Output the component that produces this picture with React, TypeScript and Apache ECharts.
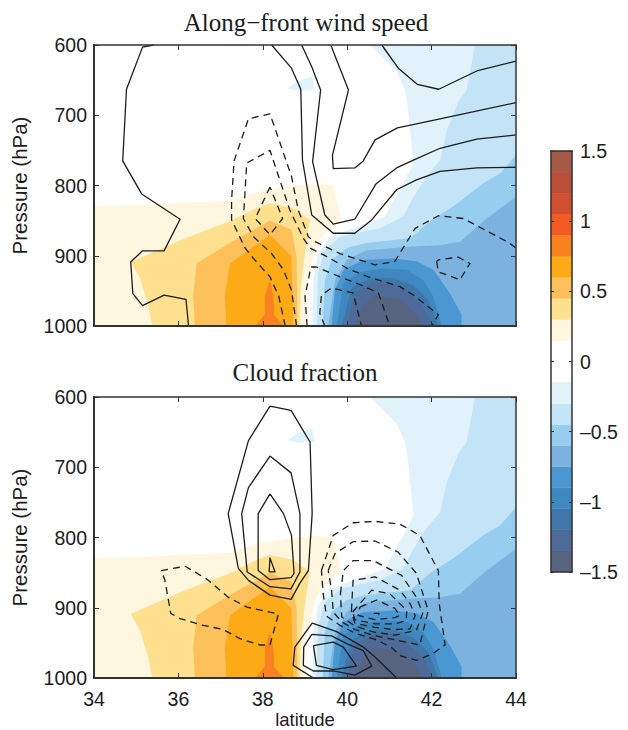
import React, { useEffect, useRef } from "react";
import * as echarts from "echarts";

type Pt = number[];

const latTicks = { min: 34, max: 44, interval: 2 };
const pressureTicks = { min: 600, max: 1000, interval: 100 };
const titles = ["Along\u2212front wind speed", "Cloud fraction"];

const warm1: Pt[] = [[34,1000],[34,829],[34.93,828],[36.04,825],[37.22,822],[37.85,809],[38.33,804],[39.12,798],[39.67,799],[39.85,847],[39.47,868],[39.24,887],[39.12,920],[39,963],[39.04,1000]];
const warm2: Pt[] = [[35.38,1000],[35.29,972],[35.09,932],[34.87,909],[36.04,878],[37.22,851],[37.85,832],[38.17,825],[38.72,832],[39.12,849],[39.04,878],[38.96,915],[38.9,949],[38.88,1000]];
const warm3: Pt[] = [[36.39,1000],[36.35,958],[36.43,911],[37.22,882],[38.17,850],[38.68,863],[38.8,901],[38.82,1000]];
const warm4: Pt[] = [[37.14,1000],[37.1,958],[37.22,911],[37.78,887],[38.17,870],[38.68,901],[38.72,1000]];
const warm5: Pt[] = [[37.83,1000],[38.05,984],[38.05,958],[38.17,934],[38.25,958],[38.27,984],[38.5,1000]];
const coolPatch: Pt[] = [[38.59,662],[38.8,652],[39.16,645],[39.24,664],[38.8,665]];
const cool1: Pt[] = [[40.54,600],[40.78,614],[41.17,638],[41.37,664],[41.45,697],[41.57,768],[41.33,797],[40.89,845],[39.59,873],[39.31,897],[39.2,935],[39.17,1000],[44,1000],[44,600]];
const cool2: Pt[] = [[43.03,600],[42.95,626],[42.83,664],[42.63,681],[42.36,721],[42.2,764],[41.88,787],[41.57,816],[41.33,844],[40.78,861],[39.83,873],[39.47,892],[39.31,925],[39.27,1000],[44,1000],[44,600]];
const cool3: Pt[] = [[44,757],[43.62,783],[43.22,797],[42.51,830],[42,849],[41.49,875],[40.46,882],[39.99,889],[39.63,906],[39.47,935],[39.42,1000],[44,1000]];
const cool4: Pt[] = [[44,816],[43.3,847],[42.67,880],[42.2,885],[41.57,887],[40.46,892],[39.99,906],[39.71,935],[39.55,1000],[44,1000]];
const cool5: Pt[] = [[42.71,1000],[42.71,984],[42.43,953],[42.04,920],[41.64,908],[41.09,904],[40.38,906],[39.91,920],[39.71,949],[39.63,1000]];
const cool6: Pt[] = [[42.24,1000],[42.04,958],[41.8,935],[41.41,920],[40.85,918],[40.3,923],[39.91,939],[39.75,1000]];
const cool7: Pt[] = [[42.16,1000],[41.92,963],[41.57,942],[41.09,932],[40.54,932],[40.1,946],[39.87,1000]];
const cool8: Pt[] = [[42.04,1000],[41.8,972],[41.41,949],[41.01,937],[40.58,939],[40.18,953],[39.99,1000]];
const cool9: Pt[] = [[41.76,1000],[41.6,980],[41.25,963],[40.66,956],[40.38,972],[40.18,1000]];

const warmColors = ["#FFF6E0", "#FEE08F", "#FDC05A", "#FCAB17", "#F8821F", "#F35B22", "#CF4F2F", "#BB4E38", "#A55A47"];
const coolColors = ["#E1F2FB", "#C3E3F6", "#97CDEE", "#7CB2DF", "#4B97D1", "#3F88BF", "#4176A9", "#4D6A98", "#566480"];
const bandStep = 0.15;

const fillLayers: { points: Pt[]; color: string }[] = [
  { points: warm1, color: warmColors[0] },
  { points: warm2, color: warmColors[1] },
  { points: warm3, color: warmColors[2] },
  { points: warm4, color: warmColors[3] },
  { points: warm5, color: warmColors[4] },
  { points: coolPatch, color: coolColors[0] },
  { points: cool1, color: coolColors[0] },
  { points: cool2, color: coolColors[1] },
  { points: cool3, color: coolColors[2] },
  { points: cool4, color: coolColors[3] },
  { points: cool5, color: coolColors[4] },
  { points: cool6, color: coolColors[5] },
  { points: cool7, color: coolColors[6] },
  { points: cool8, color: coolColors[7] },
  { points: cool9, color: coolColors[8] },
];

// Along-front wind speed contours
const windSolidA: Pt[] = [[35.41,600],[35.15,603],[34.77,663],[34.68,765],[35.13,812],[36.04,848],[35.66,893],[35.15,893],[34.87,909],[34.92,954],[35.15,971],[35.66,956],[36.18,962],[36.24,1000]];
const windSolidB: Pt[] = [[38.21,600],[38.68,633],[38.9,663],[38.94,764],[39.16,842],[39.67,868],[40.18,868],[40.58,849],[41.17,806],[41.64,792],[42.2,780],[43.07,775],[44,774]];
const windSolidC: Pt[] = [[38.92,600],[39.16,631],[39.37,664],[39.18,766],[39.47,842],[39.67,855],[40.18,848],[40.68,798],[41.17,775],[41.57,764],[42.2,747],[43.07,734],[44,728]];
const windSolidD: Pt[] = [[39.61,600],[40.03,664],[39.65,757],[39.67,776],[40.18,775],[40.38,765],[40.66,735],[41.19,718],[42.2,705],[44,682]];
const windSolidE: Pt[] = [[40.82,600],[41.21,633],[41.66,656],[42.17,663],[43.07,637],[44,623]];
const windDashA: Pt[] = [[38.53,1000],[38.38,958],[38.17,930],[37.78,904],[37.58,889],[37.26,849],[37.26,821],[37.32,765],[37.66,705],[38.17,698],[38.68,787],[38.84,835],[39.08,873],[39.24,880],[39.83,897],[40.66,913],[41.13,908],[41.61,861],[42.16,843],[42.75,847],[43.82,881],[44,889]];
const windDashB: Pt[] = [[38.8,1000],[38.68,949],[38.49,920],[38.21,897],[37.78,873],[37.54,847],[37.62,768],[38.17,750],[38.64,835],[38.96,875],[39.12,889],[39.51,901],[40.03,919],[40.5,930],[41.25,944],[41.57,956],[42.16,984],[42,1000]];
const windDashInner: Pt[] = [[38.17,802],[37.82,847],[38.17,870],[38.47,847],[38.17,802]];
const windDashC: Pt[] = [[39.05,1000],[39,958],[39.14,916],[39.27,916],[39.83,930],[40.34,942],[40.74,953],[41.01,1000]];
const windDashD: Pt[] = [[39.47,1000],[39.35,982],[39.39,956],[39.63,946],[40.14,953],[40.34,1000]];
const windDashLoop: Pt[] = [[42.12,908],[42.16,923],[42.67,934],[42.91,911],[42.63,902],[42.16,906],[42.12,908]];

// Cloud fraction contours
const cloudSolid1: Pt[] = [[38.17,613],[38.67,619],[38.88,640],[39.12,664],[39.17,766],[39.08,847],[38.88,865],[38.67,888],[38.17,882],[37.66,861],[37.42,844],[37.18,766],[37.66,662],[38.17,613]];
const cloudSolid2: Pt[] = [[38.17,684],[38.67,708],[38.88,766],[38.88,849],[38.67,873],[38.17,870],[37.63,849],[37.5,766],[37.66,729],[38.17,684]];
const cloudSolid3: Pt[] = [[38.17,738],[38.49,766],[38.68,797],[38.74,851],[38.67,857],[38.17,860],[37.89,847],[37.89,766],[38.17,738]];
const cloudSolid4: Pt[] = [[38.15,849],[38.17,829],[38.29,849],[38.15,849]];
const cloudSolid5: Pt[] = [[39.2,1000],[38.72,982],[38.76,956],[39.17,922],[39.75,934],[40.38,956],[40.66,970],[41.17,1000]];
const cloudSolid6: Pt[] = [[39.16,938],[39.63,940],[39.99,951],[40.38,961],[40.58,983],[40.18,996],[39.67,990],[39.2,990],[38.96,982],[38.97,956],[39.16,938]];
const cloudSolid7: Pt[] = [[39.2,954],[39.67,949],[39.91,956],[40.22,983],[39.67,988],[39.27,982],[39.2,954]];
const cloudDashLeft: Pt[] = [[35.59,847],[36.16,841],[36.67,859],[37.18,885],[37.62,899],[38.37,909],[38.17,953],[37.93,953],[37.46,944],[37.06,931],[36.51,924],[36.02,915],[35.82,908],[35.68,861],[35.59,847]];
const cloudDash1: Pt[] = [[39.39,847],[39.67,797],[40.14,779],[40.66,777],[41.25,781],[41.72,797],[42.16,847],[42.18,894],[42.32,953],[42.04,965],[41.64,975],[41.25,968],[41.04,956],[40.66,945],[40.18,936],[39.83,925],[39.51,912],[39.43,880],[39.39,847]];
const cloudDash2: Pt[] = [[39.55,847],[39.71,823],[40.14,806],[40.66,805],[41.21,821],[41.64,851],[41.92,904],[41.72,953],[41.25,947],[40.66,940],[40.18,931],[39.87,920],[39.67,906],[39.63,875],[39.55,847]];
const cloudDash3: Pt[] = [[39.84,880],[39.91,847],[40.14,833],[40.62,833],[40.97,844],[41.29,854],[41.64,885],[41.79,908],[41.64,932],[41.13,939],[40.66,935],[40.18,926],[39.87,913],[39.84,880]];
const cloudDash4: Pt[] = [[40.1,904],[40.14,861],[40.66,856],[41.25,875],[41.49,894],[41.61,911],[41.49,930],[41.13,931],[40.66,928],[40.18,922],[40.1,904]];
const cloudDash5: Pt[] = [[40.13,906],[40.58,875],[41.01,880],[41.41,904],[41.4,918],[41.13,923],[40.66,923],[40.18,917],[40.13,906]];
const cloudDash6: Pt[] = [[40.3,899],[40.7,889],[41.13,901],[41.25,911],[41.13,914],[40.66,917],[40.26,911],[40.3,899]];
const cloudDash7: Pt[] = [[40.63,908],[40.76,908],[40.71,911],[40.63,908]];

const windSolid = [windSolidA, windSolidB, windSolidC, windSolidD, windSolidE];
const windDashed = [windDashA, windDashB, windDashInner, windDashC, windDashD, windDashLoop];
const cloudSolid = [cloudSolid1, cloudSolid2, cloudSolid3, cloudSolid4, cloudSolid5, cloudSolid6, cloudSolid7];
const cloudDashed = [cloudDashLeft, cloudDash1, cloudDash2, cloudDash3, cloudDash4, cloudDash5, cloudDash6, cloudDash7];

const ink = "#1c1c1c";
const axisInk = "#333333";
const sans = "Liberation Sans";
const serif = "Liberation Serif";
const plainNumber = (v: number) => String(v);

function xAxisPair(gridIndex: number, labelled: boolean) {
  const base = {
    type: "value", gridIndex, ...latTicks, z: 10, splitLine: { show: false },
    axisTick: { inside: true, length: 5, lineStyle: { color: axisInk, width: 1 } },
  };
  return [
    { ...base, position: "bottom",
      axisLine: { onZero: false, lineStyle: { color: axisInk, width: 2 } },
      name: labelled ? "latitude" : "", nameLocation: "middle", nameGap: 33,
      nameTextStyle: { fontFamily: sans, fontSize: 18.5, lineHeight: 15, color: ink },
      axisLabel: { show: labelled, margin: 11, fontFamily: sans, fontSize: 19.5, color: ink, formatter: plainNumber } },
    { ...base, position: "top", axisLabel: { show: false },
      axisLine: { onZero: false, lineStyle: { color: axisInk, width: 1.5 } } },
  ];
}
function yAxisPair(gridIndex: number) {
  const base = {
    type: "value", gridIndex, ...pressureTicks, inverse: true, z: 10, splitLine: { show: false },
    axisTick: { inside: true, length: 5, lineStyle: { color: axisInk, width: 1 } },
  };
  return [
    { ...base, position: "left",
      axisLine: { onZero: false, lineStyle: { color: axisInk, width: 2 } },
      name: "Pressure (hPa)", nameLocation: "middle", nameGap: 64,
      nameTextStyle: { fontFamily: sans, fontSize: 20.5, color: ink },
      axisLabel: { margin: 7, fontFamily: sans, fontSize: 19.5, color: ink, formatter: plainNumber } },
    { ...base, position: "right", axisLabel: { show: false },
      axisLine: { onZero: false, lineStyle: { color: axisInk, width: 1.5 } } },
  ];
}

function panelSeries(axisIndex: number, solid: Pt[][], dashed: Pt[][]) {
  const fill = {
    type: "custom", xAxisIndex: axisIndex, yAxisIndex: axisIndex, z: 2, silent: true,
    clip: true,
    data: fillLayers.map((_, i) => [i]),
    renderItem: (params: any, api: any) => {
      const layer = fillLayers[params.dataIndex];
      return {
        type: "polygon",
        shape: { points: layer.points.map((p) => api.coord(p)) },
        style: { fill: layer.color, stroke: null },
      };
    },
  };
  const line = (data: Pt[], dash: any) => ({
    type: "line", xAxisIndex: axisIndex, yAxisIndex: axisIndex, z: 5, silent: true,
    showSymbol: false, symbol: "none", data, smooth: false, clip: true,
    lineStyle: { color: ink, width: 1.3, type: dash, join: "round" },
  });
  return [fill, ...solid.map((d) => line(d, "solid")), ...dashed.map((d) => line(d, [7, 5]))];
}

function colorbarBands() {
  const bands: { low: number; high: number; color: string }[] = [];
  const add = (low: number, color: string) => bands.push({ low, high: low + bandStep, color });
  coolColors.slice().reverse().forEach((c, i) => add(-1.5 + i * bandStep, c));
  warmColors.forEach((c, i) => add(0.15 + i * bandStep, c));
  return bands;
}

export default function App() {
  const ref = useRef<HTMLDivElement>(null);
  useEffect(() => {
    if (!ref.current) return;
    const chart = echarts.init(ref.current, undefined, { renderer: "svg" });
    const bands = colorbarBands();
    const barTick = { inside: true, length: 3, lineStyle: { color: axisInk, width: 1 } };
    chart.setOption({
      animation: false,
      backgroundColor: "#ffffff",
      title: [
        { text: titles[0], left: 301, top: 4.5, textAlign: "center",
          textStyle: { fontFamily: serif, fontSize: 25, fontWeight: "normal", color: ink } },
        { text: titles[1], left: 300, top: 354.5, textAlign: "center",
          textStyle: { fontFamily: serif, fontSize: 25, fontWeight: "normal", color: ink } },
      ],
      grid: [
        { left: 94, top: 45, width: 422, height: 281, outerBoundsMode: "none" },
        { left: 94, top: 397, width: 422, height: 281, outerBoundsMode: "none" },
        { left: 551, top: 151, width: 21, height: 421, outerBoundsMode: "none" },
      ],
      xAxis: [
        ...xAxisPair(0, false),
        ...xAxisPair(1, true),
        { type: "value", gridIndex: 2, min: 0, max: 1, position: "bottom", z: 10,
          axisTick: { show: false }, axisLabel: { show: false }, splitLine: { show: false },
          axisLine: { onZero: false, lineStyle: { color: axisInk, width: 1.5 } } },
        { type: "value", gridIndex: 2, min: 0, max: 1, position: "top", z: 10,
          axisTick: { show: false }, axisLabel: { show: false }, splitLine: { show: false },
          axisLine: { onZero: false, lineStyle: { color: axisInk, width: 1.5 } } },
      ],
      yAxis: [
        ...yAxisPair(0),
        ...yAxisPair(1),
        { type: "value", gridIndex: 2, min: -1.5, max: 1.5, interval: 0.5, position: "right", z: 10,
          splitLine: { show: false }, axisTick: barTick,
          axisLine: { onZero: false, lineStyle: { color: axisInk, width: 1.5 } },
          axisLabel: { margin: 8, fontFamily: sans, fontSize: 19.5, color: ink,
            formatter: (v: number) => (v < 0 ? "\u2013" + String(-v) : String(v)) } },
        { type: "value", gridIndex: 2, min: -1.5, max: 1.5, interval: 0.5, position: "left", z: 10,
          splitLine: { show: false }, axisTick: barTick, axisLabel: { show: false },
          axisLine: { onZero: false, lineStyle: { color: axisInk, width: 1.5 } } },
      ],
      series: [
        ...panelSeries(0, windSolid, windDashed),
        ...panelSeries(2, cloudSolid, cloudDashed),
        {
          type: "custom", xAxisIndex: 4, yAxisIndex: 4, z: 2, silent: true,
          data: bands.map((b) => [b.low, b.high]),
          renderItem: (params: any, api: any) => {
            const b = bands[params.dataIndex];
            const p0 = api.coord([0, b.high]);
            const p1 = api.coord([1, b.low]);
            return {
              type: "rect",
              shape: { x: p0[0], y: p0[1], width: p1[0] - p0[0], height: p1[1] - p0[1] },
              style: { fill: b.color, stroke: b.color, lineWidth: 0.4 },
            };
          },
        },
      ],
    } as any);
    return () => chart.dispose();
  }, []);
  return <div ref={ref} style={{ position: "absolute", left: 0, top: 0, width: 628, height: 730 }} />;
}
